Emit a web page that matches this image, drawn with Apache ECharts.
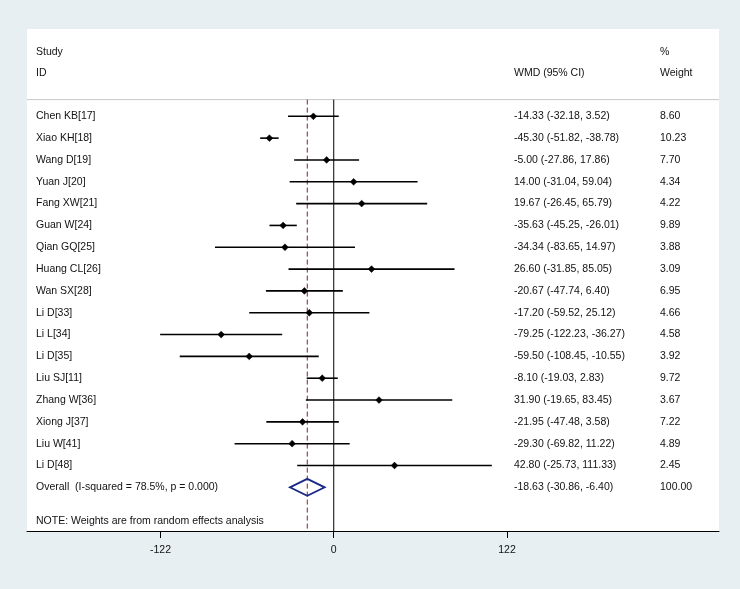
<!DOCTYPE html>
<html><head><meta charset="utf-8">
<script src="https://cdn.jsdelivr.net/npm/echarts@6/dist/echarts.min.js"></script>
<style>html,body{margin:0;padding:0;background:#e8eff2;}#c{width:740px;height:589px;}</style>
</head><body><div id="c"></div>
<script>
const studies = ['Chen KB[17]','Xiao KH[18]','Wang D[19]','Yuan J[20]','Fang XW[21]','Guan W[24]','Qian GQ[25]','Huang CL[26]','Wan SX[28]','Li D[33]','Li L[34]','Li D[35]','Liu SJ[11]','Zhang W[36]','Xiong J[37]','Liu W[41]','Li D[48]'];
const est   = [-14.33,-45.30,-5.00,14.00,19.67,-35.63,-34.34,26.60,-20.67,-17.20,-79.25,-59.50,-8.10,31.90,-21.95,-29.30,42.80];
const lower = [-32.18,-51.82,-27.86,-31.04,-26.45,-45.25,-83.65,-31.85,-47.74,-59.52,-122.23,-108.45,-19.03,-19.65,-47.48,-69.82,-25.73];
const upper = [3.52,-38.78,17.86,59.04,65.79,-26.01,14.97,85.05,6.40,25.12,-36.27,-10.55,2.83,83.45,3.58,11.22,111.33];
const weights = [8.60,10.23,7.70,4.34,4.22,9.89,3.88,3.09,6.95,4.66,4.58,3.92,9.72,3.67,7.22,4.89,2.45];
const overallEst = [-18.63];
const overallLower = [-30.86];
const overallUpper = [-6.40];
const overallWeight = [100.00];
const overallLabel = 'Overall  (I-squared = 78.5%, p = 0.000)';
const noteText = 'NOTE: Weights are from random effects analysis';
const headerTop = ['Study', '', '%'];
const headerBottom = ['ID', 'WMD (95% CI)', 'Weight'];
const xTicks = [-122, 0, 122];

const FONT = '"Liberation Sans", Arial, sans-serif';
const TXT = '#111';
const FS = 10.5;
const nStudies = studies.length;
const overallRow = nStudies;
const noteRow = overallRow + 1.56;
const sepRow = -0.765;
const bottomRow = 19;

function fmt(v){ return v.toFixed(2); }
function ciText(e,l,u){ return fmt(e) + ' (' + fmt(l) + ', ' + fmt(u) + ')'; }

const chart = echarts.init(document.getElementById('c'), null, {renderer:'canvas'});

const ciData = studies.map((s,i)=>[lower[i], upper[i], est[i], i]);

const textRows = [];
textRows.push([-2.95, headerTop[0], headerTop[1], headerTop[2]]);
textRows.push([-2.0, headerBottom[0], headerBottom[1], headerBottom[2]]);
studies.forEach((s,i)=>textRows.push([i, s, ciText(est[i],lower[i],upper[i]), fmt(weights[i])]));
textRows.push([overallRow, overallLabel, ciText(overallEst[0],overallLower[0],overallUpper[0]), fmt(overallWeight[0])]);
textRows.push([noteRow, noteText, '', '']);

const option = {
  backgroundColor: '#e8eff2',
  animation: false,
  grid: {left:27, right:21, top:29, bottom:58, show:true, backgroundColor:'#ffffff', borderWidth:0},
  xAxis: {
    type:'value', min:-216, max:271.3,
    axisLine:{show:true, onZero:false, lineStyle:{color:'#000', width:1}},
    axisTick:{show:true, customValues:xTicks, length:7, lineStyle:{color:'#000', width:1}},
    axisLabel:{show:true, customValues:xTicks, color:TXT, fontSize:FS, fontFamily:FONT, margin:14},
    splitLine:{show:false}
  },
  yAxis: {type:'value', inverse:true, min:-4, max:19, show:false},
  series: [
    {
      type:'custom', name:'refs', silent:true, z:1,
      data:[[overallEst[0], sepRow]],
      renderItem:function(params, api){
        const cs = params.coordSys;
        const ySep = api.coord([0, sepRow])[1];
        const yBot = api.coord([0, bottomRow])[1];
        const x0 = api.coord([0, 0])[0];
        const xd = api.coord([api.value(0), 0])[0];
        return {type:'group', children:[
          {type:'line', shape:{x1:cs.x, y1:ySep, x2:cs.x+cs.width, y2:ySep}, style:{stroke:'#c8c8c8', lineWidth:1}},
          {type:'line', shape:{x1:x0, y1:ySep, x2:x0, y2:yBot}, style:{stroke:'#000', lineWidth:1}},
          {type:'line', shape:{x1:xd, y1:ySep, x2:xd, y2:yBot}, style:{stroke:'#8e1f1f', lineWidth:1, lineDash:[5,3]}}
        ]};
      }
    },
    {
      type:'custom', name:'ci', silent:true, z:3,
      data: ciData,
      renderItem:function(params, api){
        const p1 = api.coord([api.value(0), api.value(3)]);
        const p2 = api.coord([api.value(1), api.value(3)]);
        const pe = api.coord([api.value(2), api.value(3)]);
        const r = 3.4;
        return {type:'group', children:[
          {type:'line', shape:{x1:p1[0], y1:p1[1], x2:p2[0], y2:p2[1]}, style:{stroke:'#000', lineWidth:1.6}},
          {type:'polygon', shape:{points:[[pe[0]-r,pe[1]],[pe[0],pe[1]-r],[pe[0]+r,pe[1]],[pe[0],pe[1]+r]]}, style:{fill:'#000', stroke:'#000', lineWidth:0.5}}
        ]};
      }
    },
    {
      type:'custom', name:'overall', silent:true, z:4,
      data:[[overallLower[0], overallUpper[0], overallEst[0], overallRow]],
      renderItem:function(params, api){
        const row = api.value(3);
        const pl = api.coord([api.value(0), row]);
        const pu = api.coord([api.value(1), row]);
        const pt = api.coord([api.value(2), row - 0.39]);
        const pb = api.coord([api.value(2), row + 0.39]);
        return {type:'polygon', shape:{points:[pl, pt, pu, pb]}, style:{fill:'none', stroke:'#1a2a86', lineWidth:1.8}};
      }
    },
    {
      type:'custom', name:'texts', silent:true, z:5,
      data: textRows.map((r,i)=>[0, r[0], i]),
      renderItem:function(params, api){
        const idx = api.value(2);
        const r = textRows[idx];
        const y = api.coord([0, r[0]])[1];
        const st = {fill:TXT, font: FS + 'px ' + FONT, textVerticalAlign:'middle', textAlign:'left'};
        return {type:'group', children:[
          {type:'text', x:36, y:y, style:Object.assign({text:r[1]}, st)},
          {type:'text', x:514, y:y, style:Object.assign({text:r[2]}, st)},
          {type:'text', x:660, y:y, style:Object.assign({text:r[3]}, st)}
        ]};
      }
    }
  ]
};
chart.setOption(option);
</script>
</body></html>
